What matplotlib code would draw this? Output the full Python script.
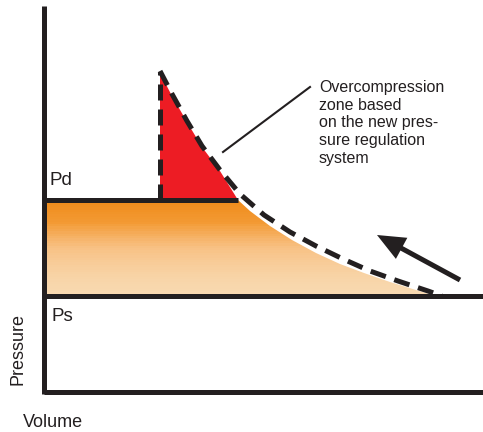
import numpy as np
import matplotlib
matplotlib.use("Agg")
from matplotlib import pyplot as plt
from matplotlib.colors import LinearSegmentedColormap
from matplotlib.patches import Polygon

plt.rcParams["font.family"] = ["Liberation Sans", "DejaVu Sans"]

# chart units: volume to the right, pressure upwards, origin at the axes corner
p_d = 192
p_s = 96
axis_top = 386
v_max = 439

# valve opening volume (start of the overcompression spike)
v_open = 116
p_peak = 320

# dashed compression curve (old regulation)
dash_v = [116, 128, 143, 158, 176, 196, 220, 246, 272, 299, 326, 354, 384, 398]
dash_p = [321, 298, 271, 246, 222, 198, 177, 160, 146, 133, 121, 111, 101, 96]

# edge of the orange work area (new regulation)
edge_v = [194, 206, 226, 248, 272, 296, 320, 346, 372, 392]
edge_p = [192, 181, 166, 152, 139, 128, 119, 110, 102, 96]

# red overcompression zone
red_v = [116, 116, 128, 143, 158, 176, 194]
red_p = [192, 319, 296, 270, 245, 221, 192]

# arrow (tail -> tip) and pointer line of the note
arrow_v = [416, 333]
arrow_p = [112, 157]
pointer_v = [179, 266]
pointer_p = [240, 305]

note = "Overcompression\nzone based\non the new pres-\nsure regulation\nsystem"

ink = "#231f20"

fig = plt.figure(figsize=(4.83, 4.32), dpi=100)
ax = fig.add_axes([0, 0, 1, 1])
ax.set_xlim(-44, 439)
ax.set_ylim(-40, 392)
ax.axis("off")

# orange gradient area, clipped by its outline
outline = list(zip([0, 0] + edge_v, [p_s, p_d] + edge_p))
outline.append((0, p_s))
area = Polygon(outline, closed=True, facecolor="none", edgecolor="none")
ax.add_patch(area)
cmap = LinearSegmentedColormap.from_list("or", ["#f9d9b0", "#f8c184", "#f39a33", "#f08c1c"])
t = np.linspace(0, 1, 40) ** 1.6
grad = np.repeat(t[:, None], 2, axis=1)
img = ax.imshow(grad, cmap=cmap, origin="lower", aspect="auto",
                extent=[0, edge_v[-1], p_s, p_d], interpolation="nearest", zorder=1)
img.set_clip_path(area)

ax.fill(red_v, red_p, color="#ed1c24", lw=0, zorder=2)

# axes and pressure levels
ax.plot([0, 0], [-2, axis_top], color=ink, lw=3.6, solid_capstyle="butt", zorder=4)
ax.plot([0, v_max], [0, 0], color=ink, lw=3.6, solid_capstyle="butt", zorder=4)
ax.plot([0, v_max], [p_s, p_s], color=ink, lw=3.6, solid_capstyle="butt", zorder=4)
ax.plot([0, edge_v[0]], [p_d, p_d], color=ink, lw=3.6, solid_capstyle="butt", zorder=4)

# dashed old curve
ax.plot([v_open, v_open], [p_d, p_peak], color=ink, lw=3.6, dashes=(3.2, 1.8), zorder=5)
ax.plot(dash_v, dash_p, color=ink, lw=3.6, dashes=(3.2, 1.8), zorder=5)

ax.plot(pointer_v, pointer_p, color=ink, lw=1.5, zorder=5)
ax.arrow(arrow_v[0], arrow_p[0], arrow_v[1] - arrow_v[0], arrow_p[1] - arrow_p[0],
         width=5, head_width=24, head_length=28, length_includes_head=True,
         color=ink, lw=0, zorder=5)

ax.text(275, 312, note, fontsize=11.5, va="top", ha="left", color=ink, linespacing=1.22)
ax.text(5, 207, "Pd", fontsize=13.5, va="baseline", ha="left", color=ink)
ax.text(7, 71, "Ps", fontsize=13.5, va="baseline", ha="left", color=ink)
ax.text(-26, 43, "Pressure", fontsize=13, rotation=90, va="center", ha="center", color=ink)
ax.text(-21, -35, "Volume", fontsize=13, va="baseline", ha="left", color=ink)

fig.savefig("out.png", dpi=100)
